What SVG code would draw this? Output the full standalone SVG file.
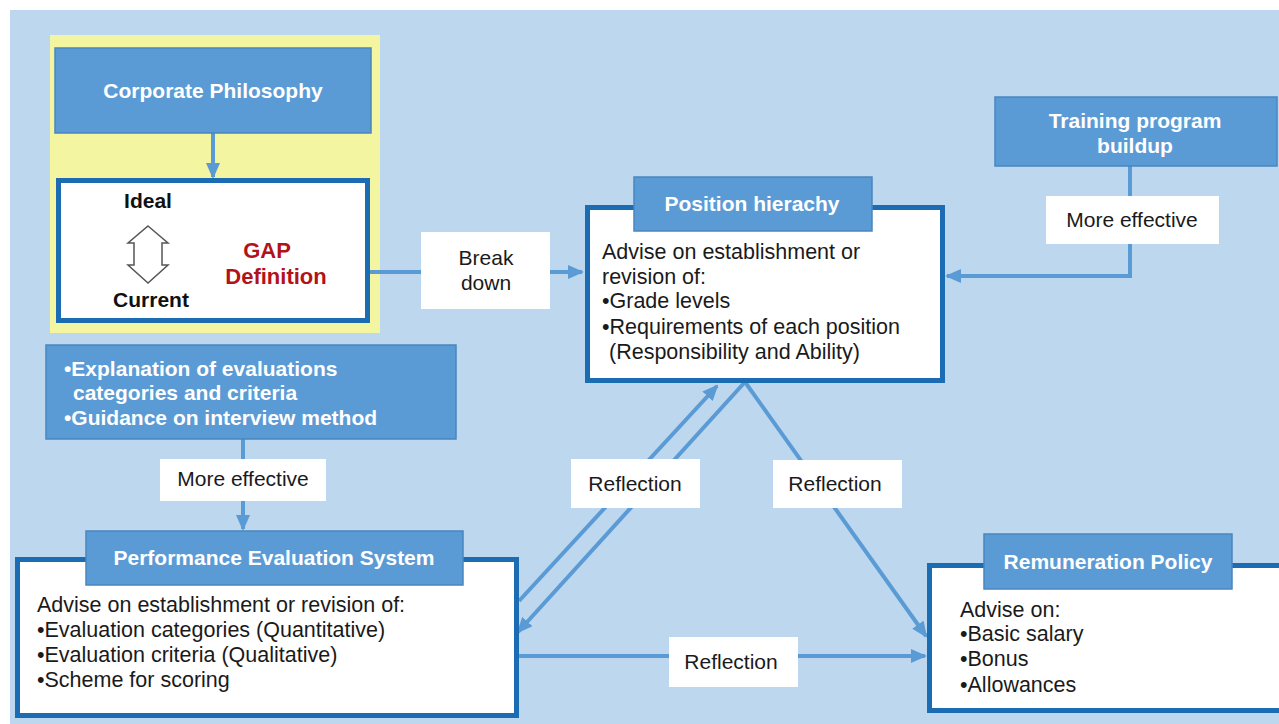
<svg xmlns="http://www.w3.org/2000/svg" width="1279" height="724" viewBox="0 0 1279 724">
<defs>
<style>
.hdr{fill:#5b9bd5;stroke:#4a86be;stroke-width:1.5}
.main{fill:#fff;stroke:#1c6cb4;stroke-width:5}
.lbl{fill:#fff}
.ht{font-family:"Liberation Sans",Arial,sans-serif;font-weight:bold;font-size:21px;fill:#fff}
.bt{font-family:"Liberation Sans",Arial,sans-serif;font-size:21.5px;fill:#1a1a1a}
.lt{font-family:"Liberation Sans",Arial,sans-serif;font-size:21px;fill:#1a1a1a}
.bk{font-family:"Liberation Sans",Arial,sans-serif;font-weight:bold;font-size:21px;fill:#111}
.rd{font-family:"Liberation Sans",Arial,sans-serif;font-weight:bold;font-size:22px;fill:#b3121b}
.con{fill:none;stroke:#5b9bd5;stroke-width:4}
</style>
<marker id="ah" markerUnits="userSpaceOnUse" markerWidth="16" markerHeight="14" refX="14" refY="7" orient="auto">
<path d="M0,0 L16,7 L0,14 Z" fill="#5b9bd5"/>
</marker>
</defs>
<rect x="0" y="0" width="1279" height="724" fill="#fff"/>
<rect x="10" y="10" width="1269" height="714" fill="#bdd7ee"/>

<g id="gap-group">
<rect x="50" y="35" width="330" height="298" fill="#f3f5a0"/>
</g>

<g id="connectors">
<path class="con" d="M213 133 V177" stroke-width="3" marker-end="url(#ah)"/>
<path class="con" d="M370 272 H582" marker-end="url(#ah)"/>
<path class="con" d="M1130 166 V276 H947" marker-end="url(#ah)"/>
<path class="con" d="M243 439 V529" marker-end="url(#ah)"/>
<path class="con" d="M519 601 L717 386" marker-end="url(#ah)"/>
<path class="con" d="M745 382 L518 632" marker-end="url(#ah)"/>
<path class="con" d="M745 382 L926 636" marker-end="url(#ah)"/>
<path class="con" d="M518 656 H925" marker-end="url(#ah)"/>
</g>

<g id="corporate-philosophy">
<rect class="hdr" x="55" y="48" width="316" height="85"/>
<text class="ht" x="213" y="98" text-anchor="middle">Corporate Philosophy</text>
</g>

<g id="gap-definition">
<rect class="main" x="58.5" y="180.5" width="309" height="140"/>
<text class="bk" x="148" y="208" text-anchor="middle">Ideal</text>
<text class="bk" x="151" y="307" text-anchor="middle">Current</text>
<path d="M148 226 L168 243 L162 243 L162 265 L168 265 L148 283 L128 265 L134 265 L134 243 L128 243 Z" fill="#fff" stroke="#555" stroke-width="1.5"/>
<text class="rd" x="267" y="258" text-anchor="middle">GAP</text>
<text class="rd" x="276" y="284" text-anchor="middle">Definition</text>
</g>

<g id="break-down">
<rect class="lbl" x="421" y="232" width="129" height="77"/>
<text class="lt" x="486" y="265" text-anchor="middle">Break</text>
<text class="lt" x="486" y="290" text-anchor="middle">down</text>
</g>

<g id="position-hierarchy">
<rect class="main" x="587.5" y="207.5" width="355" height="173"/>
<rect class="hdr" x="634" y="177" width="238" height="54"/>
<text class="ht" x="752" y="211" text-anchor="middle">Position hierachy</text>
<text class="bt" x="602" y="259">Advise on establishment or</text>
<text class="bt" x="602" y="284">revision of:</text>
<text class="bt" x="602" y="308">•Grade levels</text>
<text class="bt" x="602" y="334">•Requirements of each position</text>
<text class="bt" x="609" y="359">(Responsibility and Ability)</text>
</g>

<g id="training">
<rect class="hdr" x="995" y="97" width="282" height="69"/>
<text class="ht" x="1135" y="128" text-anchor="middle">Training program</text>
<text class="ht" x="1135" y="153" text-anchor="middle">buildup</text>
</g>

<g id="more-effective-1">
<rect class="lbl" x="1046" y="196" width="173" height="48"/>
<text class="lt" x="1132" y="227" text-anchor="middle">More effective</text>
</g>

<g id="explanation">
<rect class="hdr" x="46" y="345" width="410" height="94"/>
<text class="ht" x="64" y="376">•Explanation of evaluations</text>
<text class="ht" x="73" y="400">categories and criteria</text>
<text class="ht" x="64" y="425">•Guidance on interview method</text>
</g>

<g id="more-effective-2">
<rect class="lbl" x="160" y="459" width="166" height="42"/>
<text class="lt" x="243" y="486" text-anchor="middle">More effective</text>
</g>

<g id="performance">
<rect class="main" x="17.5" y="559.5" width="499" height="156"/>
<rect class="hdr" x="86" y="531" width="377" height="54"/>
<text class="ht" x="274" y="565" text-anchor="middle">Performance Evaluation System</text>
<text class="bt" x="37" y="612">Advise on establishment or revision of:</text>
<text class="bt" x="37" y="637">•Evaluation categories (Quantitative)</text>
<text class="bt" x="37" y="662">•Evaluation criteria (Qualitative)</text>
<text class="bt" x="37" y="687">•Scheme for scoring</text>
</g>

<g id="remuneration">
<rect class="main" x="929.5" y="565.5" width="360" height="145"/>
<rect class="hdr" x="984" y="534" width="248" height="55"/>
<text class="ht" x="1108" y="569" text-anchor="middle">Remuneration Policy</text>
<text class="bt" x="960" y="617">Advise on:</text>
<text class="bt" x="960" y="641">•Basic salary</text>
<text class="bt" x="960" y="666">•Bonus</text>
<text class="bt" x="960" y="692">•Allowances</text>
</g>

<g id="reflection-labels">
<rect class="lbl" x="571" y="459" width="129" height="49"/>
<text class="lt" x="635" y="491" text-anchor="middle">Reflection</text>
<rect class="lbl" x="773" y="460" width="129" height="48"/>
<text class="lt" x="835" y="491" text-anchor="middle">Reflection</text>
<rect class="lbl" x="669" y="637" width="129" height="50"/>
<text class="lt" x="731" y="669" text-anchor="middle">Reflection</text>
</g>
</svg>
